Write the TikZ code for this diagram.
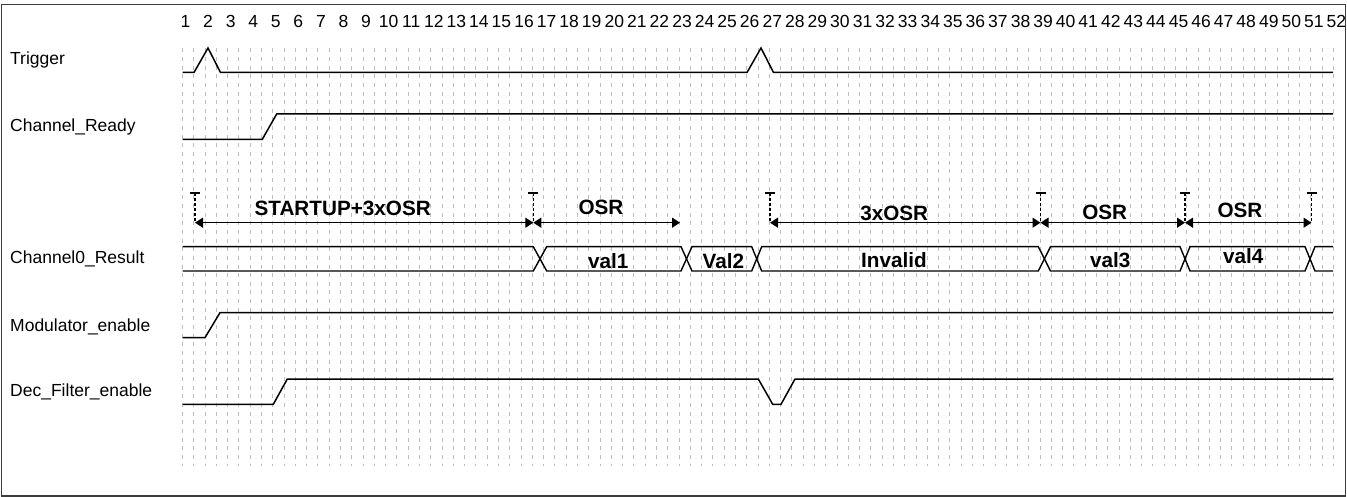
\documentclass[tikz,border=0pt]{standalone}
\usepackage{fontspec}
\setmainfont{Liberation Sans}
\usetikzlibrary{arrows.meta}
\definecolor{gridgray}{RGB}{190,190,190}
\definecolor{framegray}{RGB}{60,60,60}
\tikzset{
  gridline/.style={gridgray, line width=0.9pt, dash pattern=on 4pt off 4.65pt},
  sig/.style={black, line width=1.5pt, line join=miter},
  bus/.style={black, line width=1.4pt},
  sigtext/.style={inner sep=0pt, anchor=base west, font=\fontsize{17.5}{20}\selectfont},
  numtext/.style={inner sep=0pt, anchor=base, font=\fontsize{17.5}{20}\selectfont},
  boldtext/.style={inner sep=0pt, anchor=base, font=\fontsize{20.7}{24}\selectfont\bfseries},
  tickline/.style={black, line width=1.1pt, dash pattern=on 3pt off 2pt},
  tickcap/.style={black, line width=1.1pt},
  dimarrow/.style={black, line width=1.3pt, {Triangle[length=8pt,width=10pt]}-{Triangle[length=8pt,width=10pt]}},
}
\begin{document}
\begin{tikzpicture}[x=1pt, y=-1pt]
\useasboundingbox (0,0) rectangle (1347,497);
% frame
\draw[framegray, line width=1.5pt] (1.5,4.5) rectangle (1345.5,496);
% grid
\foreach \i in {0,...,102} {
  \draw[gridline] ({182.5+\i*11.284},48.3) -- ({182.5+\i*11.284},466);
}
% cycle numbers
\foreach \k in {1,...,52} {
  \node[numtext] (n\k) at ({185.5+(\k-1)*22.568},27.5) {\k};
}
% signal names
\node[sigtext] (lTrig) at (10,65) {Trigger};
\node[sigtext] (lReady) at (10,131.5) {Channel\_Ready};
\node[sigtext] (lRes) at (10,264) {Channel0\_Result};
\node[sigtext] (lMod) at (10,331.3) {Modulator\_enable};
\node[sigtext] (lDec) at (10,396.3) {Dec\_Filter\_enable};
% Trigger
\draw[sig] (182.5,72.5) -- (194,72.5) -- (208,48) -- (220.5,72.5) -- (747,72.5) -- (761,48) -- (773.5,72.5) -- (1333,72.5);
% Channel_Ready
\draw[sig] (182.5,139.3) -- (262.3,139.3) -- (276.7,114) -- (1333,114);
% Modulator_enable
\draw[sig] (182.5,337.7) -- (205,337.7) -- (220,312.7) -- (1333,312.7);
% Dec_Filter_enable
\draw[sig] (182.5,404.3) -- (273.3,404.3) -- (287.3,379) -- (758.3,379) -- (772.7,404.3) -- (781,404.3) -- (795,379) -- (1333,379);
% Channel0_Result bus
\def\bt{246.7}
\def\bb{271}
\draw[bus] (182.5,\bt) -- (533.3,\bt) -- (546.7,\bb) -- (681,\bb) -- (692,\bt) -- (751.7,\bt) -- (761.7,\bb) -- (1038.3,\bb) -- (1050.5,\bt) -- (1180,\bt) -- (1190,\bb) -- (1305,\bb) -- (1315,\bt) -- (1333,\bt);
\draw[bus] (182.5,\bb) -- (533.3,\bb) -- (546.7,\bt) -- (681,\bt) -- (692,\bb) -- (751.7,\bb) -- (761.7,\bt) -- (1038.3,\bt) -- (1050.5,\bb) -- (1180,\bb) -- (1190,\bt) -- (1305,\bt) -- (1315,\bb) -- (1333,\bb);
% bus values
\node[boldtext] (v1) at (608.3,268.3) {val1};
\node[boldtext] (v2) at (723.3,268.3) {Val2};
\node[boldtext] (vInv) at (894,268) {Invalid};
\node[boldtext] (v3) at (1110.3,267.3) {val3};
\node[boldtext] (v4) at (1243.3,264) {val4};
% tick marks
\foreach \n/\x in {t1/195, t2/533.3, t3/770, t4/1040.5, t5/1185, t6/1311.5} {
  \coordinate (\n) at (\x,222.7);
  \coordinate (\n top) at (\x,193);
  \draw[tickline] (\n top) -- (\n);
  \draw[tickcap] ([xshift=-5pt]\n top) -- ([xshift=5pt]\n top);
}
\coordinate (e2) at (680,222.7);
% dimension arrows
\draw[dimarrow] (t1) -- (t2);
\draw[dimarrow] (t2) -- (e2);
\draw[dimarrow] (t3) -- (t4);
\draw[dimarrow] (t4) -- (t5);
\draw[dimarrow] (t5) -- (t6);
% dimension labels
\node[boldtext] (dStart) at (342.7,216) {STARTUP+3xOSR};
\node[boldtext] (dOsr1) at (601,215) {OSR};
\node[boldtext] (d3Osr) at (894.2,220.7) {3xOSR};
\node[boldtext] (dOsr2) at (1104.7,219.3) {OSR};
\node[boldtext] (dOsr3) at (1240,217.3) {OSR};
\end{tikzpicture}
\end{document}
